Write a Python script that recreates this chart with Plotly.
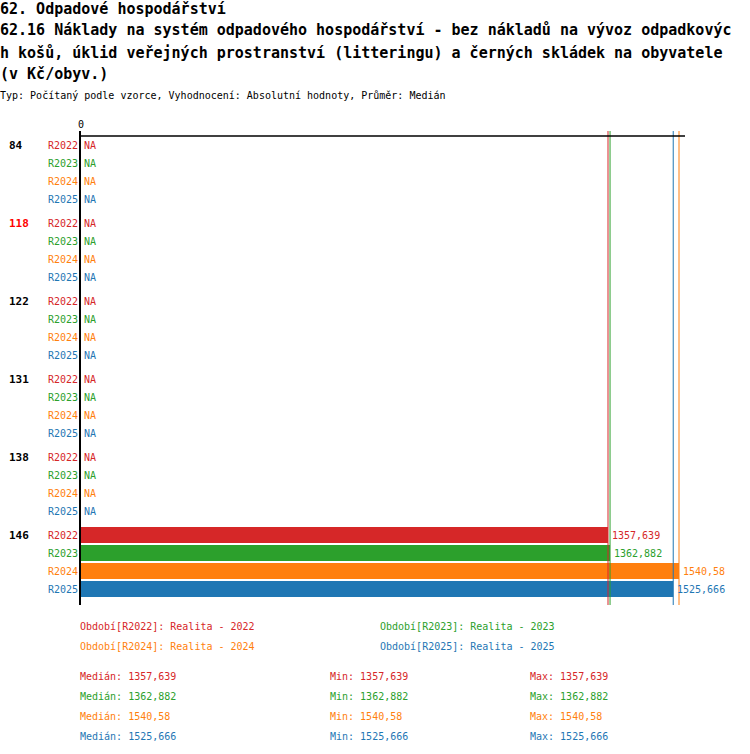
import plotly.graph_objects as go
import numpy as np

# ---------------- data ----------------
groups = ["84", "118", "122", "131", "138", "146"]
highlight_group = "118"
series = ["R2022", "R2023", "R2024", "R2025"]
series_names = ["Realita - 2022", "Realita - 2023", "Realita - 2024", "Realita - 2025"]
colors = ["#d62728", "#2ca02c", "#ff7f0e", "#1f77b4"]
r2022 = [None, None, None, None, None, 1357.639]
r2023 = [None, None, None, None, None, 1362.882]
r2024 = [None, None, None, None, None, 1540.58]
r2025 = [None, None, None, None, None, 1525.666]
values = [r2022, r2023, r2024, r2025]
x_ticks = [0]
x_max = 1556

title_lines = [
    "62. Odpadové hospodářství",
    "62.16 Náklady na systém odpadového hospodářství - bez nákladů na vývoz odpadkovýc",
    "h košů, úklid veřejných prostranství (litteringu) a černých skládek na obyvatele",
    "(v Kč/obyv.)",
]
subtitle = "Typ: Počítaný podle vzorce, Vyhodnocení: Absolutní hodnoty, Průměr: Medián"

# ---------------- layout helpers ----------------
W_FIG, H_FIG = 750, 754
L, R, T, B = 81, 685, 131, 605
PW, PH = R - L, B - T
MONO = "DejaVu Sans Mono"

def px(xp):
    return (xp - L) / PW

def py(yp):
    return (B - yp) / PH

def fmt(v):
    return str(v).replace(".", ",")

GROUP_STEP = 4 + 1 / 3
ROW_STEP = 1.0

def pos(g, r):
    return g * GROUP_STEP + r * ROW_STEP

def ann(**kw):
    d = dict(showarrow=False, borderpad=0, borderwidth=0, yanchor="middle")
    d.update(kw)
    return d

fig = go.Figure()
annotations = []
shapes = []

for si, (sname, col, vals) in enumerate(zip(series, colors, values)):
    ys = [pos(g, si) for g in range(len(groups))]
    fig.add_trace(go.Bar(
        orientation="h", y=ys, x=vals, width=16 / 18,
        marker=dict(color=col, line=dict(width=0)),
        hoverinfo="skip", showlegend=False,
    ))
    for g, (yv, v) in enumerate(zip(ys, vals)):
        annotations.append(ann(
            x=px(78), xref="paper", y=yv, yref="y", text=sname,
            xanchor="right", font=dict(family=MONO, size=10, color=col)))
        if v is None:
            annotations.append(ann(
                x=0, xref="x", y=yv, yref="y", text="NA", xshift=3,
                xanchor="left", font=dict(family=MONO, size=10, color=col)))
        else:
            annotations.append(ann(
                x=v, xref="x", y=yv, yref="y", text=fmt(v), xshift=4,
                xanchor="left", font=dict(family=MONO, size=10, color=col)))

# group labels
for g, name in enumerate(groups):
    annotations.append(ann(
        x=px(9), xref="paper", y=pos(g, 0), yref="y", text="<b>%s</b>" % name,
        xanchor="left",
        font=dict(family=MONO, size=11,
                  color="#ff0000" if name == highlight_group else "black")))

# median lines
stats = []
for col, vals in zip(colors, values):
    arr = np.array([v for v in vals if v is not None], dtype=float)
    med, mn, mx = float(np.median(arr)), float(arr.min()), float(arr.max())
    stats.append((med, mn, mx))
    shapes.append(dict(type="line", xref="x", yref="paper", x0=med, x1=med,
                       y0=0, y1=1, line=dict(color=col, width=1)))

# top axis line
shapes.append(dict(type="line", xref="paper", yref="y", x0=0, x1=1,
                   y0=-0.5, y1=-0.5, line=dict(color="black", width=1.5)))

# titles
title_y = [8.5, 30.5, 52.5, 74]
for t, yp in zip(title_lines, title_y):
    annotations.append(ann(
        x=px(0), xref="paper", y=py(yp), yref="paper", text="<b>%s</b>" % t,
        xanchor="left", font=dict(family=MONO, size=15, color="black")))
annotations.append(ann(
    x=px(0), xref="paper", y=py(96), yref="paper", text=subtitle,
    xanchor="left", font=dict(family=MONO, size=10, color="black")))

# legend
leg_pos = [(80, 626), (380, 626), (80, 646), (380, 646)]
for (xp, yp), sname, nm, col in zip(leg_pos, series, series_names, colors):
    annotations.append(ann(
        x=px(xp), xref="paper", y=py(yp), yref="paper",
        text="Období[%s]: %s" % (sname, nm),
        xanchor="left", font=dict(family=MONO, size=10, color=col)))

# stats
stat_rows = [676, 696, 716, 736]
for (med, mn, mx), col, yp in zip(stats, colors, stat_rows):
    for xp, lab, v in [(80, "Medián", med), (330, "Min", mn), (530, "Max", mx)]:
        annotations.append(ann(
            x=px(xp), xref="paper", y=py(yp), yref="paper",
            text="%s: %s" % (lab, fmt(round(v, 3))),
            xanchor="left", font=dict(family=MONO, size=10, color=col)))

fig.update_layout(
    width=W_FIG, height=H_FIG,
    margin=dict(l=L, r=W_FIG - R, t=T, b=H_FIG - B, pad=0),
    paper_bgcolor="white", plot_bgcolor="white",
    barmode="overlay", showlegend=False, hovermode=False,
    annotations=annotations, shapes=shapes,
    xaxis=dict(range=[0, x_max], side="top", tickvals=x_ticks,
               ticktext=[str(t) for t in x_ticks], showgrid=False,
               zeroline=False, showline=False, ticks="",
               tickfont=dict(family=MONO, size=10, color="black")),
    yaxis=dict(range=[pos(len(groups) - 1, 3) + 16 / 18, -14 / 18],
               showline=True, linecolor="black", linewidth=2,
               showticklabels=False, showgrid=False, zeroline=False, ticks=""),
)

fig.write_html("out.html", config={"displayModeBar": False},
               post_script="document.body.style.margin='0px';document.body.style.padding='0px';")
